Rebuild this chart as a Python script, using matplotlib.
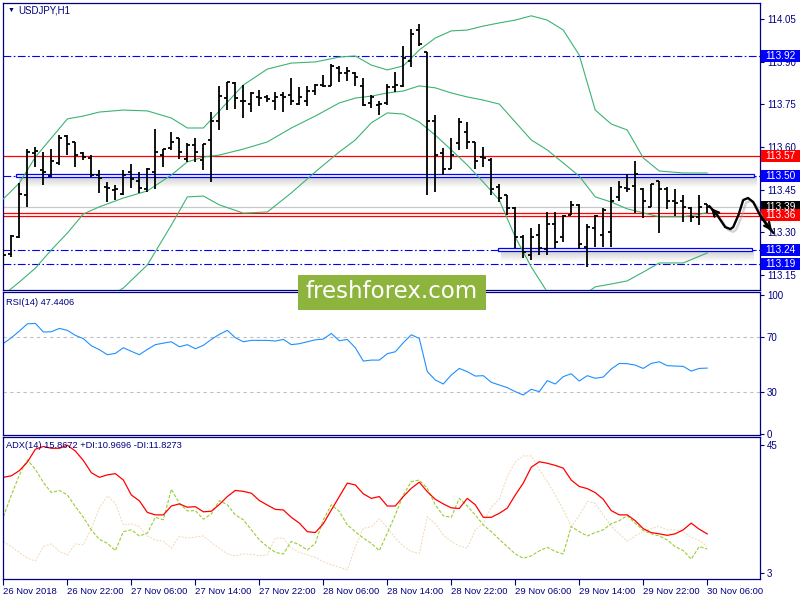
import matplotlib
matplotlib.use("Agg")
import matplotlib.pyplot as plt
import matplotlib.patheffects as pe
from matplotlib.patches import Rectangle
import numpy as np

plt.rcParams['font.family'] = ['Liberation Sans', 'DejaVu Sans']

# ---------- USDJPY H1 bars, 26 Nov 14:00 -> 30 Nov 06:00 ----------
bar_open = [113.210, 113.224, 113.284, 113.432, 113.579, 113.520, 113.499, 113.544, 113.639, 113.618,
            113.579, 113.562, 113.502, 113.460, 113.449, 113.435, 113.513, 113.481, 113.453, 113.513,
            113.572, 113.597, 113.632, 113.558, 113.607, 113.555, 113.625, 113.692, 113.772, 113.825,
            113.762, 113.751, 113.776, 113.776, 113.762, 113.783, 113.783, 113.751, 113.762, 113.797,
            113.818, 113.815, 113.878, 113.860, 113.860, 113.815, 113.755, 113.748, 113.755, 113.811,
            113.815, 113.902, 114.011, 113.934, 113.692, 113.579, 113.523, 113.614, 113.653, 113.618,
            113.565, 113.555, 113.460, 113.432, 113.386, 113.284, 113.221, 113.291, 113.242, 113.330,
            113.284, 113.361, 113.397, 113.249, 113.316, 113.291, 113.302, 113.425, 113.456, 113.463,
            113.453, 113.390, 113.481, 113.453, 113.411, 113.411, 113.386, 113.354, 113.400]
bar_high = [113.242, 113.291, 113.474, 113.593, 113.600, 113.583, 113.593, 113.642, 113.642, 113.618,
            113.583, 113.572, 113.520, 113.477, 113.467, 113.520, 113.541, 113.513, 113.527, 113.664,
            113.593, 113.653, 113.632, 113.614, 113.632, 113.611, 113.723, 113.815, 113.829, 113.829,
            113.818, 113.793, 113.801, 113.783, 113.793, 113.793, 113.843, 113.811, 113.815, 113.822,
            113.853, 113.892, 113.885, 113.881, 113.864, 113.843, 113.783, 113.762, 113.822, 113.864,
            113.955, 114.015, 114.032, 113.934, 113.713, 113.597, 113.632, 113.702, 113.688, 113.618,
            113.600, 113.562, 113.470, 113.432, 113.390, 113.291, 113.316, 113.330, 113.372, 113.372,
            113.361, 113.411, 113.400, 113.330, 113.361, 113.386, 113.460, 113.481, 113.506, 113.551,
            113.456, 113.470, 113.481, 113.460, 113.453, 113.432, 113.390, 113.432, 113.400]
bar_low = [113.179, 113.214, 113.281, 113.390, 113.530, 113.467, 113.495, 113.537, 113.572, 113.530,
           113.555, 113.495, 113.439, 113.407, 113.414, 113.432, 113.456, 113.439, 113.442, 113.453,
           113.530, 113.590, 113.558, 113.548, 113.548, 113.520, 113.477, 113.660, 113.730, 113.734,
           113.702, 113.723, 113.744, 113.758, 113.730, 113.723, 113.748, 113.748, 113.744, 113.783,
           113.811, 113.815, 113.829, 113.832, 113.815, 113.744, 113.737, 113.713, 113.748, 113.793,
           113.811, 113.881, 113.955, 113.432, 113.442, 113.502, 113.523, 113.590, 113.593, 113.523,
           113.530, 113.432, 113.407, 113.361, 113.246, 113.210, 113.203, 113.221, 113.221, 113.246,
           113.267, 113.361, 113.242, 113.179, 113.249, 113.249, 113.249, 113.411, 113.442, 113.369,
           113.351, 113.390, 113.298, 113.383, 113.358, 113.337, 113.337, 113.326, 113.369]
bar_close = [113.221, 113.288, 113.435, 113.583, 113.586, 113.513, 113.551, 113.632, 113.611, 113.572,
             113.565, 113.502, 113.491, 113.456, 113.453, 113.502, 113.488, 113.456, 113.523, 113.583,
             113.593, 113.618, 113.583, 113.607, 113.583, 113.611, 113.692, 113.779, 113.829, 113.772,
             113.762, 113.790, 113.772, 113.769, 113.776, 113.776, 113.762, 113.776, 113.797, 113.818,
             113.815, 113.885, 113.860, 113.867, 113.846, 113.748, 113.776, 113.751, 113.811, 113.818,
             113.913, 113.997, 113.962, 113.692, 113.572, 113.523, 113.572, 113.688, 113.618, 113.551,
             113.562, 113.453, 113.421, 113.386, 113.284, 113.231, 113.284, 113.246, 113.330, 113.267,
             113.358, 113.397, 113.260, 113.319, 113.358, 113.379, 113.411, 113.460, 113.453, 113.506,
             113.411, 113.470, 113.453, 113.411, 113.404, 113.390, 113.354, 113.390, 113.390]

# Bollinger bands at these bars
band_bars = [0, 2, 4, 6, 8, 10, 12, 15, 18, 21, 23, 25, 27, 30, 33, 36, 39, 42, 44, 46,
             48, 50, 52, 54, 56, 58, 60, 62, 64, 66, 68, 70, 72, 74, 76, 78, 80, 82, 85, 88]
band_upper = [113.418, 113.474, 113.565, 113.632, 113.699, 113.709, 113.723, 113.730, 113.727, 113.702,
              113.667, 113.667, 113.727, 113.818, 113.874, 113.895, 113.899, 113.916, 113.920, 113.888,
              113.871, 113.885, 113.941, 113.983, 114.008, 114.011, 114.025, 114.036, 114.046, 114.061,
              114.046, 114.011, 113.923, 113.730, 113.681, 113.660, 113.562, 113.516, 113.509, 113.509]
band_mid = [113.081, 113.126, 113.175, 113.239, 113.298, 113.365, 113.390, 113.421, 113.446, 113.502,
            113.548, 113.565, 113.572, 113.593, 113.618, 113.667, 113.709, 113.755, 113.772, 113.779,
            113.790, 113.797, 113.815, 113.808, 113.790, 113.776, 113.765, 113.751, 113.688, 113.625,
            113.590, 113.544, 113.498, 113.425, 113.407, 113.383, 113.369, 113.355, 113.355, 113.369]
band_lower = [112.743, 112.785, 112.800, 112.845, 112.898, 113.021, 113.056, 113.105, 113.186, 113.326,
              113.425, 113.428, 113.397, 113.368, 113.372, 113.439, 113.513, 113.583, 113.625, 113.685,
              113.720, 113.716, 113.688, 113.642, 113.590, 113.537, 113.477, 113.414, 113.284, 113.179,
              113.091, 113.063, 113.070, 113.109, 113.119, 113.130, 113.161, 113.193, 113.193, 113.228]

rsi = [65.2, 69.3, 74.1, 79.3, 79.6, 73.4, 73.6, 76.0, 74.6, 71.0,
       68.6, 63.5, 60.7, 57.1, 58.0, 62.1, 59.5, 57.1, 60.9, 64.3,
       65.4, 66.4, 62.8, 64.3, 61.4, 63.8, 68.1, 71.7, 74.6, 69.3,
       66.4, 67.4, 67.4, 67.4, 66.9, 68.1, 64.3, 65.0, 66.4, 67.8,
       68.3, 72.4, 67.1, 68.1, 62.1, 52.5, 53.2, 53.2, 57.8, 59.2,
       65.7, 71.4, 68.8, 44.9, 38.9, 36.0, 42.5, 47.2, 44.9, 41.7,
       42.0, 37.2, 35.3, 33.4, 30.5, 28.1, 32.2, 30.5, 38.4, 36.0,
       41.3, 43.4, 38.1, 42.0, 40.1, 41.0, 46.8, 50.8, 50.6, 49.6,
       47.2, 50.8, 52.0, 49.2, 48.9, 48.7, 45.3, 47.2, 47.44]

adx = [34.4, 34.9, 36.6, 39.4, 43.6, 44.5, 43.9, 43.9, 44.9, 43.0,
       39.9, 35.9, 34.4, 35.2, 35.6, 33.5, 28.6, 26.7, 22.9, 22.1,
       22.1, 25.0, 25.7, 24.6, 24.8, 23.1, 23.3, 25.5, 28.1, 30.1,
       29.8, 29.2, 26.8, 25.3, 23.9, 23.7, 21.3, 19.4, 16.6, 16.3,
       19.2, 23.7, 28.1, 32.5, 31.9, 29.0, 27.5, 28.1, 25.0, 25.0,
       28.1, 30.8, 32.8, 29.7, 27.2, 25.7, 24.4, 24.2, 27.5, 25.4,
       21.3, 21.3, 22.6, 24.3, 28.6, 32.5, 37.7, 39.5, 39.0, 38.3,
       37.4, 33.5, 31.4, 30.7, 29.4, 27.2, 23.5, 22.1, 22.1, 20.2,
       17.6, 16.3, 15.9, 15.4, 15.9, 17.2, 19.4, 17.4, 15.87]
plus_di = [21.5, 28.6, 35.2, 40.1, 37.0, 32.7, 29.4, 30.1, 28.6, 24.8,
           21.3, 17.2, 14.1, 12.8, 10.4, 16.6, 17.2, 15.2, 16.1, 21.3,
           20.5, 30.5, 25.9, 23.4, 23.5, 20.7, 22.4, 26.8, 25.4, 22.1,
           20.5, 17.2, 13.9, 11.7, 9.8, 9.3, 13.4, 12.3, 10.6, 12.8,
           20.5, 25.4, 23.2, 18.8, 16.6, 14.5, 12.8, 10.4, 16.1, 22.1,
           28.6, 33.0, 33.5, 30.8, 25.4, 21.8, 21.3, 27.5, 25.0, 22.1,
           18.8, 16.6, 14.1, 11.7, 9.3, 7.9, 8.7, 10.3, 11.5, 10.1,
           9.3, 18.3, 16.6, 15.2, 16.3, 17.2, 19.2, 20.2, 21.8, 19.4,
           17.0, 15.9, 15.2, 13.9, 11.7, 10.4, 7.6, 11.7, 10.97]
minus_di = [13.4, 11.7, 9.8, 7.9, 7.0, 11.7, 12.6, 10.1, 9.0, 12.6,
            12.3, 17.7, 24.3, 28.3, 25.9, 18.8, 19.2, 18.3, 15.2, 13.9,
            13.4, 11.2, 15.0, 14.5, 14.8, 15.2, 13.0, 11.2, 9.3, 8.7,
            9.3, 9.2, 8.7, 9.0, 14.5, 14.5, 11.2, 9.8, 9.0, 8.2,
            6.8, 5.7, 5.0, 4.1, 11.7, 17.7, 18.2, 20.8, 18.0, 14.5,
            11.9, 10.1, 9.5, 21.5, 19.2, 15.5, 13.4, 11.9, 11.2, 17.2,
            19.2, 24.6, 27.2, 34.6, 39.5, 41.4, 41.4, 37.0, 33.0, 28.6,
            23.7, 18.3, 21.8, 26.5, 25.9, 22.1, 18.3, 15.9, 13.4, 15.2,
            16.6, 17.7, 18.3, 17.2, 17.2, 16.6, 14.8, 13.7, 11.83]

date_bars = [0, 8, 16, 24, 32, 40, 48, 56, 64, 72, 80, 88]
date_labels = ['26 Nov 2018', '26 Nov 22:00', '27 Nov 06:00', '27 Nov 14:00', '27 Nov 22:00',
               '28 Nov 06:00', '28 Nov 14:00', '28 Nov 22:00', '29 Nov 06:00', '29 Nov 14:00',
               '29 Nov 22:00', '30 Nov 06:00']
price_ticks = [114.05, 113.90, 113.75, 113.60, 113.45, 113.30, 113.15]

# levels drawn on the chart
dashdot_levels = [113.92, 113.50, 113.24, 113.19]
red_levels = [113.57, 113.368, 113.358]
bid_price = 113.39
box_levels = [113.50, 113.24]
box_start = [1.6, 61.9]
box_end = [93.9, 93.6]
price_tags = [113.92, 113.57, 113.50, 113.39, 113.36, 113.24, 113.19]
tag_colors = ['#0000ff', '#ff0000', '#0000ff', '#000000', '#ff0000', '#0000ff', '#0000ff']

# hand drawn forecast squiggle
arrow_x = [88.25, 89.25, 90.25, 90.9, 91.25, 91.9, 92.5, 93.1, 93.75, 94.6, 95.6, 96.3]
arrow_y = [113.393, 113.361, 113.319, 113.312, 113.319, 113.361, 113.414, 113.421, 113.407,
           113.361, 113.319, 113.298]

NAVY = '#000080'
W, H = 800, 600
PX = 0.0035125  # price per pixel in the main window


def rect(x0, y0, x1, y1):
    return [x0 / W, 1 - y1 / H, (x1 - x0) / W, (y1 - y0) / H]


def style_panel(a):
    for s in a.spines.values():
        s.set_color(NAVY)
        s.set_linewidth(0.9)
    a.yaxis.tick_right()
    a.tick_params(axis='y', direction='out', length=3, width=0.8, colors=NAVY,
                  labelsize=7, pad=2)
    a.set_xlim(-0.05, 94.6)


fig = plt.figure(figsize=(8, 6), dpi=100)
ax = fig.add_axes(rect(3, 3, 760, 290))
ax_rsi = fig.add_axes(rect(3, 292, 760, 435))
ax_adx = fig.add_axes(rect(3, 437, 760, 579))
for a in (ax, ax_rsi, ax_adx):
    style_panel(a)

# ---------- main window ----------
idx = np.arange(len(bar_close))
dashdot = (0, (7, 2.2, 1.5, 2.2))
for lv in dashdot_levels:
    ax.axhline(lv, color='#0000ff', lw=0.8, ls=dashdot, zorder=1)
for lv in red_levels:
    ax.axhline(lv, color='#ff0000', lw=0.9, zorder=1)
ax.axhline(bid_price, color='#c8c8c8', lw=0.9, zorder=1)

# drawn rectangles with a soft shadow underneath
for lv, x0, x1 in zip(box_levels, box_start, box_end):
    for k in range(10):
        ax.add_patch(Rectangle((x0 + 0.3, lv - 1.5 * PX - (k + 1) * PX), x1 - x0, PX,
                               fc='#606060', ec='none', alpha=0.28 * (1 - k / 10), zorder=2))
    ax.add_patch(Rectangle((x0, lv - 1.5 * PX), x1 - x0, 3 * PX, fc='white', ec='#0000ff',
                           lw=0.9, zorder=3))

green = '#3cb371'
ax.plot(band_bars, band_upper, color=green, lw=0.8, zorder=4)
ax.plot(band_bars, band_mid, color=green, lw=0.8, zorder=4)
ax.plot(band_bars, band_lower, color=green, lw=0.8, zorder=4)

ax.vlines(idx, bar_low, bar_high, color='black', lw=1.3, zorder=5)
ax.hlines(bar_open, idx - 0.38, idx, color='black', lw=1.3, zorder=5)
ax.hlines(bar_close, idx, idx + 0.38, color='black', lw=1.3, zorder=5)

ax.set_ylim(113.098, 114.106)
ax.set_yticks(price_ticks)
ax.set_yticklabels([f'{t:.2f}' for t in price_ticks])
ax.set_xticks([])

# coloured price tags on the right scale
ytrans = ax.get_yaxis_transform()
tag_w = 39 / 757
for lv, c in zip(price_tags, tag_colors):
    ax.add_patch(Rectangle((1.0015, lv - 6 * PX), tag_w, 12 * PX, transform=ytrans,
                           fc=c, ec='none', clip_on=False, zorder=10))
    ax.text(1.0015 + tag_w / 2, lv, f'{lv:.2f}', transform=ytrans, ha='center', va='center',
            fontsize=7.3, color='white', zorder=11, clip_on=False)

shadow = [pe.SimpleLineShadow(offset=(2, -2), shadow_color='#a0a0a0', alpha=0.45), pe.Normal()]
ax.plot(arrow_x, arrow_y, color='black', lw=1.7, clip_on=False, zorder=12,
        solid_capstyle='round', path_effects=shadow)
ax.annotate('', xy=(arrow_x[0], arrow_y[0]), xytext=(arrow_x[1], arrow_y[1]),
            arrowprops=dict(arrowstyle='->', lw=1.7, color='black', mutation_scale=11),
            annotation_clip=False, zorder=12)
ax.annotate('', xy=(arrow_x[-1], arrow_y[-1]), xytext=(arrow_x[-3], arrow_y[-3]),
            arrowprops=dict(arrowstyle='->', lw=1.7, color='black', mutation_scale=11),
            annotation_clip=False, zorder=12)

ax.text(0.0106, 0.975, '\u25bc', transform=ax.transAxes, fontsize=5, color=NAVY, va='center',
        ha='center')
ax.text(0.0198, 0.975, 'USDJPY,H1', transform=ax.transAxes, fontsize=7, color=NAVY,
        va='center', ha='left')

# ---------- RSI ----------
for lv in (70, 30):
    ax_rsi.axhline(lv, color='#c0c0c0', lw=0.8, ls=(0, (3, 3)))
ax_rsi.plot(idx, rsi, color='#1e90ff', lw=0.8)
ax_rsi.set_ylim(-0.7, 102.2)
ax_rsi.set_yticks([100, 70, 30, 0])
ax_rsi.set_xticks([])
ax_rsi.text(0.004, 0.93, 'RSI(14) 47.4406', transform=ax_rsi.transAxes, fontsize=6.7,
            color=NAVY, va='center', ha='left')

# ---------- ADX ----------
ax_adx.plot(idx, minus_di, color='#f3d6b0', lw=0.7, ls=(0, (2, 1.5)))
ax_adx.plot(idx, plus_di, color='#9acd32', lw=0.8, ls=(0, (3, 1.5)))
ax_adx.plot(idx, adx, color='#ff0000', lw=0.9)
ax_adx.set_ylim(1.1, 47.6)
ax_adx.set_yticks([45, 3])
ax_adx.set_xticks(date_bars)
ax_adx.set_xticklabels(date_labels)
ax_adx.tick_params(axis='x', direction='out', length=4, width=0.8, colors=NAVY,
                   labelsize=6.8, pad=2)
for lbl in ax_adx.get_xticklabels():
    lbl.set_ha('left')
ax_adx.text(0.004, 0.937, 'ADX(14) 15.8672 +DI:10.9696 -DI:11.8273', transform=ax_adx.transAxes,
            fontsize=6.7, color=NAVY, va='center', ha='left')

# ---------- watermark ----------
fig.add_artist(Rectangle((298 / W, 1 - 310 / H), 188 / W, 35 / H, transform=fig.transFigure,
                         fc='#8db43c', ec='none', zorder=20))
fig.text(392 / W, 1 - 292 / H, 'freshforex.com', ha='center', va='center', color='white',
         fontsize=16.5, family='DejaVu Sans', zorder=21)

fig.savefig('out.png', dpi=100)
